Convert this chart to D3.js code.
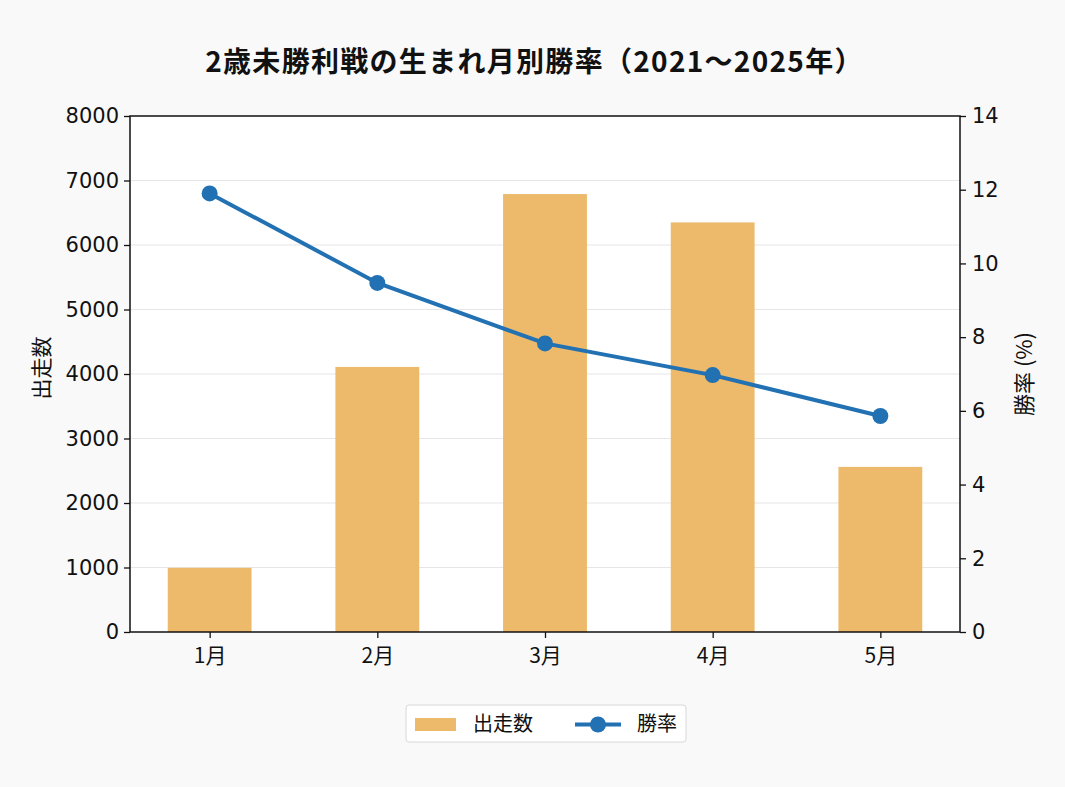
<!DOCTYPE html>
<html>
<head>
<meta charset="utf-8">
<script src="https://cdn.jsdelivr.net/npm/d3@7"></script>
<style>
  body { margin: 0; background: #f9f9f9; }
  text { font-family: "DejaVu Sans", "Noto Sans CJK JP", sans-serif; fill: #111; }
  .jp { font-family: "Noto Sans CJK JP", sans-serif; }
</style>
</head>
<body>
<div class="canva"></div>
<script>
// data
const months = ["1月", "2月", "3月", "4月", "5月"];
const starts = [995, 4110, 6790, 6350, 2560];
const winRate = [11.9, 9.47, 7.83, 6.97, 5.86];
const leftTicks = [0, 1000, 2000, 3000, 4000, 5000, 6000, 7000, 8000];
const rightTicks = [0, 2, 4, 6, 8, 10, 12, 14];

const W = 1065, H = 787;
const margin = {top: 116, right: 105, bottom: 155, left: 130};
const plotW = W - margin.left - margin.right;
const plotH = H - margin.top - margin.bottom;

const barColor = "#edb96a";
const lineColor = "#2271b3";

const svg = d3.select(".canva").append("svg")
    .attr("width", W)
    .attr("height", H);

svg.append("rect").attr("width", W).attr("height", H).attr("fill", "#f9f9f9");

// title
svg.append("text")
    .attr("class", "jp")
    .attr("x", W / 2 + 2)
    .attr("y", 72)
    .attr("text-anchor", "middle")
    .style("font-size", "28px")
    .style("font-weight", "bold")
    .style("letter-spacing", "1.3px")
    .text("2歳未勝利戦の生まれ月別勝率（2021～2025年）");

const g = svg.append("g")
    .attr("transform", `translate(${margin.left}, ${margin.top})`);

g.append("rect").attr("width", plotW).attr("height", plotH).attr("fill", "#fff");

// scales
const x = d3.scaleLinear().domain([-0.475, 4.475]).range([0, plotW]);
const yL = d3.scaleLinear().domain([0, 8000]).range([plotH, 0]);
const yR = d3.scaleLinear().domain([0, 14]).range([plotH, 0]);

// grid
g.append("g").selectAll("line")
    .data(leftTicks.slice(1, -1))
    .join("line")
    .attr("x1", 0).attr("x2", plotW)
    .attr("y1", d => yL(d)).attr("y2", d => yL(d))
    .attr("stroke", "#e6e6e6")
    .attr("stroke-width", 1.2);

// bars
const bw = x(0.25) - x(-0.25);
g.append("g").selectAll("rect")
    .data(starts)
    .join("rect")
    .attr("x", (d, i) => x(i) - bw / 2)
    .attr("y", d => yL(d))
    .attr("width", bw)
    .attr("height", d => plotH - yL(d))
    .attr("fill", barColor);

// line
const line = d3.line()
    .x((d, i) => x(i))
    .y(d => yR(d));

g.append("path")
    .datum(winRate)
    .attr("d", line)
    .attr("fill", "none")
    .attr("stroke", lineColor)
    .attr("stroke-width", 4);

g.append("g").selectAll("circle")
    .data(winRate)
    .join("circle")
    .attr("cx", (d, i) => x(i))
    .attr("cy", d => yR(d))
    .attr("r", 8)
    .attr("fill", lineColor);

// axes
const axL = g.append("g")
    .call(d3.axisLeft(yL).tickValues(leftTicks).tickSize(6).tickPadding(5).tickFormat(d3.format("d")));
const axR = g.append("g")
    .attr("transform", `translate(${plotW},0)`)
    .call(d3.axisRight(yR).tickValues(rightTicks).tickSize(6).tickPadding(6));
const axB = g.append("g")
    .attr("transform", `translate(0,${plotH})`)
    .call(d3.axisBottom(x).tickValues(d3.range(months.length)).tickSize(6).tickPadding(10).tickFormat(i => months[i]));

[axL, axR, axB].forEach(a => {
    a.select(".domain").remove();
    a.selectAll("line").attr("stroke", "#111").attr("stroke-width", 1.3);
    a.selectAll("text").attr("fill", "#222").attr("font-family", null);
});
axL.selectAll("text").style("font-size", "21px");
axR.selectAll("text").style("font-size", "21px");
axB.selectAll("text").attr("class", "jp").style("font-size", "21px");

// frame
g.append("rect")
    .attr("width", plotW).attr("height", plotH)
    .attr("fill", "none")
    .attr("stroke", "#111")
    .attr("stroke-width", 1.5);

// axis labels
svg.append("text")
    .attr("class", "jp")
    .attr("transform", `translate(49, ${margin.top + plotH / 2 - 6}) rotate(-90)`)
    .attr("text-anchor", "middle")
    .style("font-size", "21px")
    .text("出走数");

svg.append("text")
    .attr("class", "jp")
    .attr("transform", `translate(1032, ${margin.top + plotH / 2}) rotate(-90)`)
    .attr("text-anchor", "middle")
    .style("font-size", "22px")
    .text("勝率 (%)");

// legend
const lg = svg.append("g").attr("transform", "translate(406, 705)");
lg.append("rect")
    .attr("width", 280).attr("height", 37)
    .attr("rx", 3)
    .attr("fill", "#fff")
    .attr("stroke", "#d8d8d8");
lg.append("rect")
    .attr("x", 9).attr("y", 13).attr("width", 41).attr("height", 13)
    .attr("fill", barColor);
lg.append("text")
    .attr("class", "jp")
    .attr("x", 67).attr("y", 26)
    .style("font-size", "20px")
    .text("出走数");
lg.append("line")
    .attr("x1", 169).attr("x2", 215).attr("y1", 19.5).attr("y2", 19.5)
    .attr("stroke", lineColor).attr("stroke-width", 4);
lg.append("circle")
    .attr("cx", 192).attr("cy", 19.5).attr("r", 8)
    .attr("fill", lineColor);
lg.append("text")
    .attr("class", "jp")
    .attr("x", 231).attr("y", 26)
    .style("font-size", "20px")
    .text("勝率");
</script>
</body>
</html>
